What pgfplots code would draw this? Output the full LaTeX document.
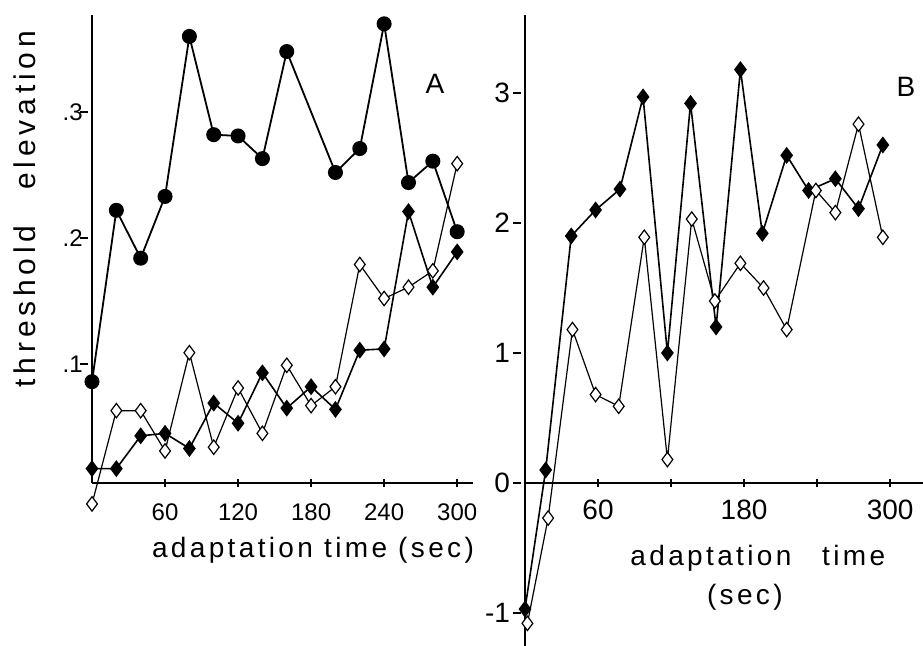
\documentclass[border=0pt]{standalone}
\usepackage{fontspec}
\setmainfont{Liberation Sans}
\newfontfamily\lblfont{Liberation Sans}[LetterSpace=12]
\newfontfamily\ylblfont{Liberation Sans}[LetterSpace=16]
\usepackage{pgfplots}
\usepackage{pgfplotstable}
\pgfplotsset{compat=1.18}

% panel A: threshold elevation, three conditions
\pgfplotstableread{
t v
0 0.086
20 0.222
40 0.184
60 0.233
80 0.360
100 0.282
120 0.281
140 0.263
160 0.348
200 0.252
220 0.271
240 0.370
260 0.244
280 0.261
300 0.205
}\circA
\pgfplotstableread{
t v
0 0.017
20 0.017
40 0.043
60 0.045
80 0.033
100 0.069
120 0.053
140 0.093
160 0.065
180 0.082
200 0.064
220 0.111
240 0.112
260 0.221
280 0.161
300 0.189
}\fillA
\pgfplotstableread{
t v
0 -0.011
20 0.063
40 0.063
60 0.031
80 0.109
100 0.034
120 0.081
140 0.045
160 0.099
180 0.067
200 0.082
220 0.179
240 0.152
260 0.161
280 0.174
300 0.259
}\openA

% panel B
\pgfplotstableread{
t v
0 -0.97
17 0.10
38 1.90
58 2.10
78 2.26
97 2.97
117 1.00
136 2.92
157 1.20
177 3.18
195 1.92
215 2.52
233 2.25
255 2.34
274 2.11
294 2.60
}\fillB
\pgfplotstableread{
t v
2 -1.08
19 -0.27
39 1.18
58 0.68
77 0.59
98 1.89
117 0.18
137 2.03
156 1.40
177 1.69
196 1.50
215 1.18
239 2.25
255 2.08
274 2.76
294 1.89
}\openB

\pgfplotsset{
  panel/.style={
    scale only axis, clip=false, anchor=south west,
    tick align=inside, major tick length=4pt,
    tick style={black, line width=0.9pt},
    every y tick/.append style={xshift=-4pt},
  },
  nolinearrows/.style={
    axis line style={line width=1.1pt, -},
    every outer x axis line/.append style={-},
    every outer y axis line/.append style={-},
    every inner x axis line/.append style={-},
    every inner y axis line/.append style={-},
  },
  dots/.style={black, line width=0.9pt, mark=*, mark size=3.3pt, mark options={solid}},
  filled/.style={black, line width=0.8pt, mark=diamond*, mark size=3.6pt, mark options={solid, fill=black}},
  open/.style={black, line width=0.6pt, mark=diamond*, mark size=3.6pt, mark options={solid, fill=white}},
}

\begin{document}
\begin{tikzpicture}
\useasboundingbox (0pt,0pt) rectangle (461.5pt,323pt);

\begin{axis}[panel,
  at={(46pt,81.5pt)}, width=190.5pt, height=234pt,
  xmin=0, xmax=313, ymin=0.0056, ymax=0.377,
  axis x line=bottom, axis y line=left, nolinearrows,
  xtick={60,120,180,240,300}, xticklabels={60,120,180,240,300},
  ytick={0.1,0.2,0.3}, yticklabels={.1,.2,.3},
  ticklabel style={font=\fontsize{12}{14}\selectfont},
  xticklabel style={yshift=-5pt}, yticklabel style={inner xsep=1.5pt, xshift=-1pt},
  xlabel={\lblfont adaptation time (sec)},
  xlabel style={at={(axis description cs:0.580,-0.143)}, anchor=center, font=\fontsize{14}{16}\selectfont},
  ylabel={\ylblfont threshold\hspace{1.2em}elevation},
  ylabel style={at={(axis description cs:-0.176,0.585)}, anchor=center, font=\fontsize{15}{17}\selectfont},
]
\addplot[dots] table[x=t, y=v] {\circA};
\addplot[filled] table[x=t, y=v] {\fillA};
\addplot[open] table[x=t, y=v] {\openA};
\node[font=\fontsize{14}{16}\selectfont] at (axis description cs:0.900,0.853) {A};
\end{axis}

\begin{axis}[panel,
  at={(262.5pt,0pt)}, width=199pt, height=315.5pt,
  xmin=0, xmax=327, ymin=-1.254, ymax=3.6,
  axis x line=middle, axis y line=left, nolinearrows,
  hide obscured y ticks=false, hide obscured x ticks=false,
  xtick={60,120,180,240,300}, xticklabels={60,,180,,300},
  ytick={-1,0,1,2,3}, yticklabels={-1,0,1,2,3},
  ticklabel style={font=\fontsize{14}{16}\selectfont},
  xticklabel style={yshift=-3pt}, yticklabel style={xshift=-2pt},
  xlabel={\lblfont adaptation\hspace{1.1em}time\\\lblfont (sec)\hspace*{13pt}},
  xlabel style={at={(axis description cs:0.585,0.1086)}, anchor=center, align=center, font=\fontsize{14}{19.5}\selectfont},
]
\addplot[filled] table[x=t, y=v] {\fillB};
\addplot[open] table[x=t, y=v] {\openB};
\node[font=\fontsize{14}{16}\selectfont] at (axis description cs:0.957,0.886) {B};
\end{axis}
\end{tikzpicture}
\end{document}
